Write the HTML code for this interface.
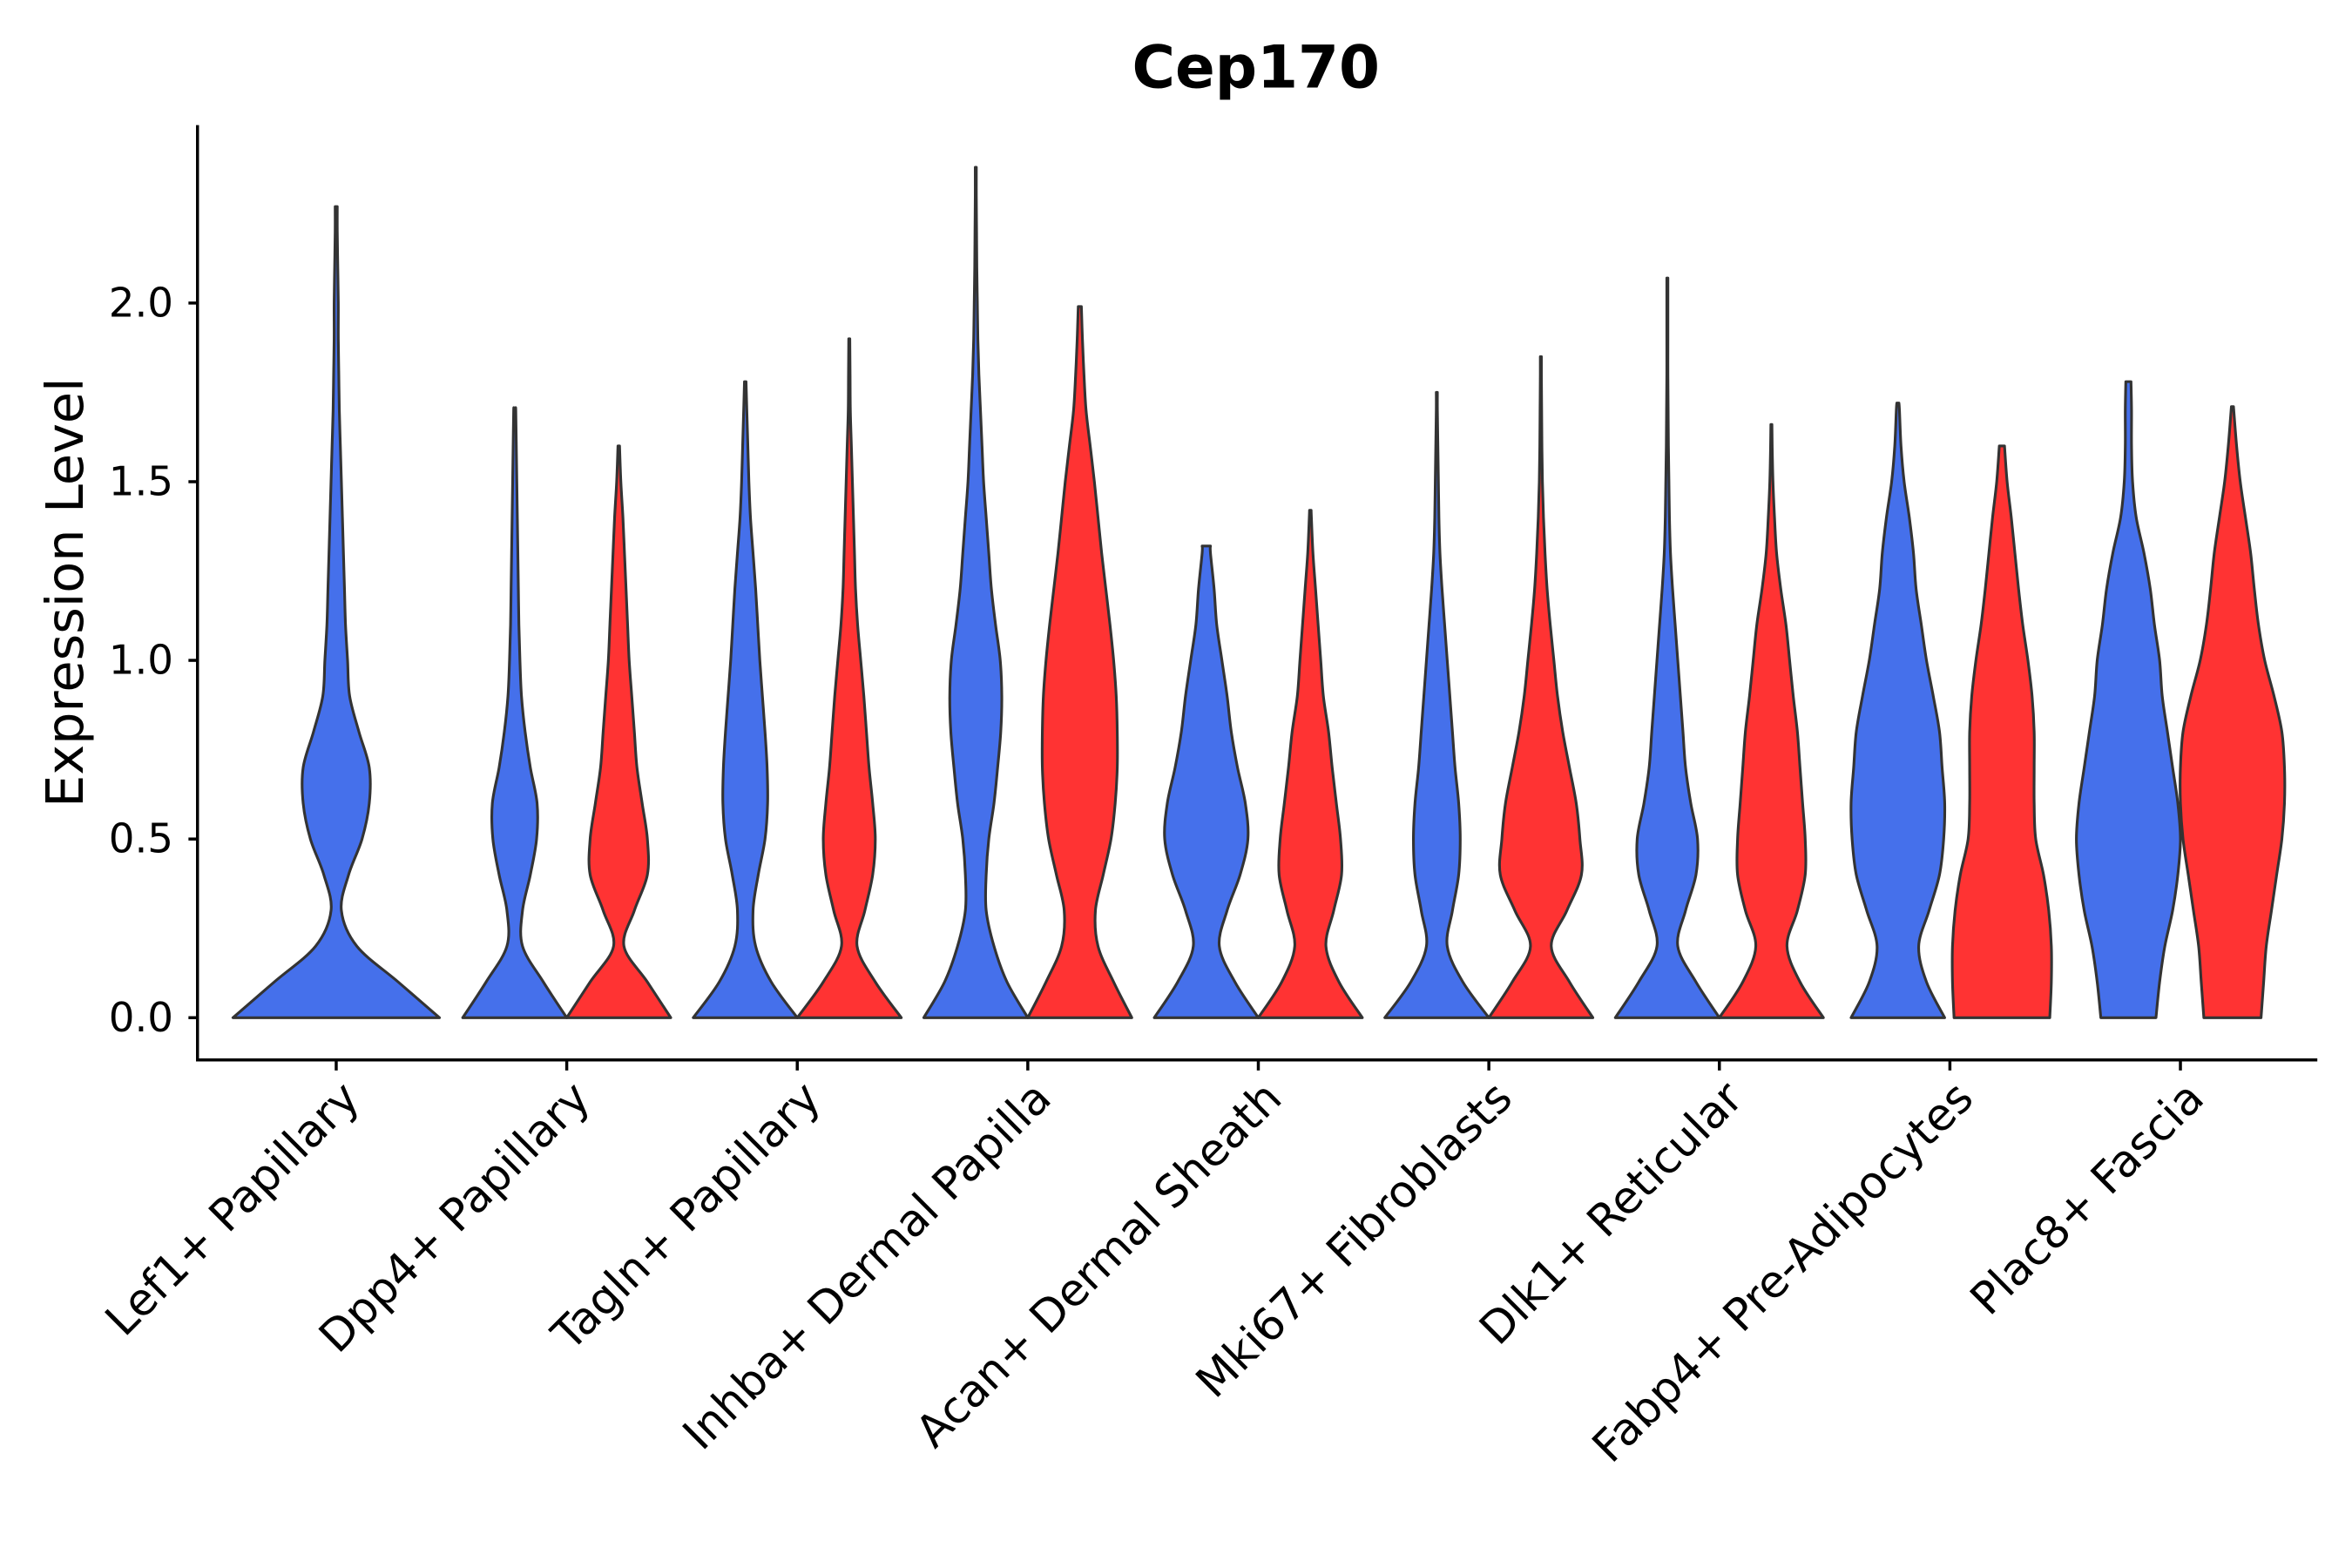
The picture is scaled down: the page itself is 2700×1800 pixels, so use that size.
<!DOCTYPE html>
<html><head><meta charset="utf-8"><style>
html,body{margin:0;padding:0;background:#fff}
svg{display:block;font-family:"DejaVu Sans","Liberation Sans",sans-serif}
</style></head><body>
<svg id="chart" width="2700" height="1800" viewBox="0 0 1560 1040" xmlns="http://www.w3.org/2000/svg">
<text x="833" y="58" text-anchor="middle" font-size="39" font-weight="bold">Cep170</text>
<text transform="translate(55,393) rotate(-90)" text-anchor="middle" font-size="34">Expression Level</text>
<g id="marks"></g>
<g id="axes"></g>
</svg>
<script>
const categories = ["Lef1+ Papillary","Dpp4+ Papillary","Tagln+ Papillary","Inhba+ Dermal Papilla","Acan+ Dermal Sheath","Mki67+ Fibroblasts","Dlk1+ Reticular","Fabp4+ Pre-Adipocytes","Plac8+ Fascia"];
const yTicks = [0, 0.5, 1.0, 1.5, 2.0];
const yTickLabels = ["0.0","0.5","1.0","1.5","2.0"];
// each violin: category index, group (0 blue,1 red, -1 single), max value, widths at 0,0.1,0.2,... last entry = width at max
const vCat = [0,1,1,2,2,3,3,4,4,5,5,6,6,7,7,8,8];
const vGroup = [-1,0,1,0,1,0,1,0,1,0,1,0,1,0,1,0,1];
const vMax = [2.27,1.70,1.60,1.78,1.90,2.38,1.99,1.32,1.42,1.75,1.85,2.07,1.66,1.72,1.60,1.78,1.71];
const vWidths = [
 [1.0,0.6,0.2,0.05,0.12,0.25,0.32,0.32,0.22,0.13,0.11,0.09,0.08,0.07,0.06,0.05,0.04,0.03,0.025,0.02,0.02,0.015,0.01,0.01],
 [1,0.55,0.15,0.15,0.3,0.42,0.43,0.3,0.2,0.13,0.1,0.08,0.07,0.06,0.05,0.04,0.03,0.02,0.015],
 [1,0.55,0.1,0.3,0.55,0.55,0.45,0.35,0.3,0.25,0.2,0.17,0.14,0.11,0.08,0.04,0.015],
 [1,0.5,0.2,0.15,0.25,0.38,0.43,0.42,0.38,0.33,0.28,0.24,0.2,0.15,0.1,0.07,0.05,0.03,0.015],
 [1,0.5,0.15,0.3,0.45,0.5,0.45,0.38,0.33,0.28,0.22,0.16,0.12,0.1,0.08,0.06,0.04,0.02,0.015,0.01],
 [1,0.6,0.35,0.2,0.2,0.25,0.35,0.42,0.48,0.5,0.47,0.38,0.3,0.25,0.2,0.15,0.12,0.09,0.06,0.04,0.03,0.02,0.015,0.01,0.01],
 [1,0.65,0.35,0.3,0.45,0.6,0.68,0.72,0.72,0.7,0.65,0.58,0.5,0.42,0.35,0.28,0.2,0.12,0.08,0.05,0.03],
 [1,0.55,0.25,0.4,0.65,0.8,0.75,0.6,0.48,0.4,0.3,0.2,0.15,0.08,0.08],
 [1,0.55,0.3,0.45,0.6,0.58,0.5,0.42,0.35,0.25,0.2,0.15,0.1,0.05,0.02,0.015],
 [1,0.5,0.2,0.3,0.42,0.45,0.42,0.35,0.3,0.25,0.2,0.15,0.1,0.06,0.04,0.03,0.02,0.01,0.01],
 [1,0.55,0.2,0.5,0.78,0.75,0.68,0.55,0.42,0.32,0.25,0.18,0.12,0.08,0.05,0.03,0.02,0.015,0.01,0.01],
 [1,0.55,0.2,0.35,0.55,0.58,0.45,0.35,0.3,0.25,0.2,0.15,0.1,0.06,0.04,0.03,0.02,0.015,0.01,0.01,0.01,0.01],
 [1,0.55,0.3,0.5,0.65,0.65,0.6,0.55,0.5,0.42,0.35,0.28,0.18,0.1,0.06,0.03,0.015,0.01],
 [0.9,0.55,0.4,0.6,0.8,0.88,0.9,0.85,0.8,0.68,0.55,0.45,0.35,0.3,0.22,0.12,0.06,0.03,0.02],
 [0.92,0.95,0.95,0.9,0.8,0.65,0.62,0.62,0.62,0.58,0.5,0.4,0.32,0.25,0.18,0.1,0.05],
 [0.53,0.6,0.7,0.85,0.95,1.0,0.95,0.85,0.75,0.65,0.6,0.5,0.42,0.3,0.15,0.08,0.06,0.06,0.05],
 [0.55,0.6,0.65,0.75,0.85,0.95,1.0,1.0,0.95,0.8,0.62,0.5,0.42,0.35,0.25,0.15,0.08,0.02]
];
const colors = ["#4570EB","#FF3333"];
const NS="http://www.w3.org/2000/svg";
const plot = {left:131, right:1537, top:83, bottom:703};
const catX0 = 223, catStep = 152.9;
function xScale(i){return catX0 + i*catStep;}
function yScale(v){return 675 - v*237;}
const marks=document.getElementById('marks'), axes=document.getElementById('axes');
function mk(tag, attrs, parent){const e=document.createElementNS(NS,tag);for(const k in attrs)e.setAttribute(k,attrs[k]);parent.appendChild(e);return e;}
function smoothPath(pts){
  let d="M"+pts[0][0]+","+pts[0][1];
  for(let i=0;i<pts.length-1;i++){
    const p0=pts[Math.max(0,i-1)],p1=pts[i],p2=pts[i+1],p3=pts[Math.min(pts.length-1,i+2)];
    const c1=[p1[0]+(p2[0]-p0[0])/6,p1[1]+(p2[1]-p0[1])/6];
    const c2=[p2[0]-(p3[0]-p1[0])/6,p2[1]-(p3[1]-p1[1])/6];
    d+=" C"+c1[0].toFixed(2)+","+c1[1].toFixed(2)+" "+c2[0].toFixed(2)+","+c2[1].toFixed(2)+" "+p2[0].toFixed(2)+","+p2[1].toFixed(2);
  }
  return d;
}
vCat.forEach((c,k)=>{
  const g=vGroup[k];
  const cx = g<0 ? xScale(c) : xScale(c) + (g===0?-34.5:34.5);
  const hw = g<0 ? 68.5 : 34.5;
  const w=vWidths[k];
  const right=[], left=[];
  for(let i=0;i<w.length;i++){
    const v = i===w.length-1 ? vMax[k] : Math.min(i*0.1, vMax[k]);
    right.push([cx+w[i]*hw, yScale(v)]);
  }
  for(let i=right.length-1;i>=0;i--) left.push([2*cx-right[i][0], right[i][1]]);
  let d=smoothPath(right)+" L"+left[0][0].toFixed(2)+","+left[0][1].toFixed(2)+" "+smoothPath(left).slice(1).replace(/^[^C]*/,"")+" Z";
  const p=mk('path',{d:d,fill:colors[g<0?0:g],stroke:"#333",'stroke-width':1.8,'stroke-linejoin':'round'},marks);
  
  
});
// axes
const ya=mk('line',{x1:plot.left,y1:plot.top,x2:plot.left,y2:plot.bottom,stroke:"#000",'stroke-width':2},axes);


const xa=mk('line',{x1:plot.left-1,y1:plot.bottom,x2:plot.right,y2:plot.bottom,stroke:"#000",'stroke-width':2},axes);


yTicks.forEach((v,i)=>{
  const y=yScale(v);
  const t=mk('line',{x1:plot.left-6,y1:y,x2:plot.left,y2:y,stroke:"#000",'stroke-width':2},axes);
  
  
  const l=mk('text',{x:115,y:y+9,'text-anchor':'end','font-size':27},axes);
  l.textContent=yTickLabels[i];
  
  
});
categories.forEach((c,i)=>{
  const x=xScale(i);
  const t=mk('line',{x1:x,y1:plot.bottom,x2:x,y2:plot.bottom+7,stroke:"#000",'stroke-width':2},axes);
  
  
  const l=mk('text',{transform:`translate(${x+17},${plot.bottom+27}) rotate(-45)`,'text-anchor':'end','font-size':29.5},axes);
  l.textContent=c;
  
  
});
</script>
</body></html>
